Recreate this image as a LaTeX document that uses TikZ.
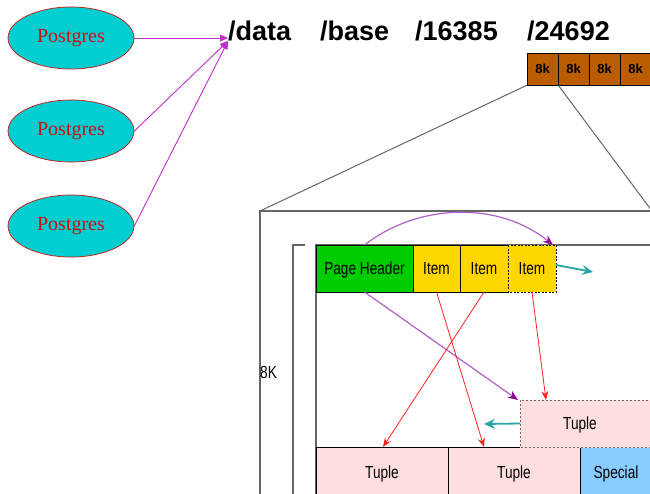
\documentclass[tikz,border=0pt]{standalone}
\usepackage{fontspec}
\setmainfont{Liberation Serif}
\setsansfont{Liberation Sans}
\newfontfamily\narrowsans[FakeStretch=0.78]{Liberation Sans}
\newfontfamily\boldsans{Liberation Sans Bold}
\usetikzlibrary{arrows.meta,shapes.geometric,calc}
\definecolor{pgcyan}{HTML}{00CED1}
\definecolor{pgred}{HTML}{CC1010}
\definecolor{magarrow}{HTML}{C030C8}
\definecolor{blkbrown}{HTML}{BA5C00}
\definecolor{framegray}{HTML}{666666}
\definecolor{hdrgreen}{HTML}{00CC00}
\definecolor{itemyellow}{HTML}{FFD700}
\definecolor{tuplepink}{HTML}{FFDEDF}
\definecolor{specblue}{HTML}{88CCFF}
\definecolor{arcpurple}{HTML}{B060C8}
\definecolor{darkpurple}{HTML}{8A0A9A}
\definecolor{ptrred}{HTML}{FF2020}
\definecolor{tealc}{HTML}{2AA4A4}
\begin{document}
\begin{tikzpicture}[x=1pt,y=-1pt,
  pg/.style={ellipse,draw=pgred,fill=pgcyan,line width=0.7pt,minimum width=126,minimum height=62,inner sep=0,text=pgred,font=\rmfamily\fontsize{20}{22}\selectfont},
  pathlbl/.style={anchor=base west,inner sep=0,font=\boldsans\fontsize{27}{30}\selectfont},
  magarr/.style={draw=magarrow,line width=0.9pt,-{Triangle[length=8,width=7]}},
  blk/.style={draw=black,fill=blkbrown,line width=0.7pt,minimum width=31,minimum height=32,inner sep=0,text depth=0pt,font=\boldsans\fontsize{13}{15}\selectfont},
  frame/.style={draw=framegray,line width=1.3pt},
  cell/.style={draw=black,line width=0.8pt,inner sep=0,outer sep=0,text depth=0pt,font=\narrowsans\fontsize{17.5}{19}\selectfont},
  plain/.style={inner sep=0,font=\narrowsans\fontsize{17.5}{19}\selectfont},
  redptr/.style={draw=ptrred,line width=0.8pt,-{Stealth[length=9,width=7,inset=3]}},
  tealptr/.style={draw=tealc,line width=1.8pt,-{Stealth[length=11,width=10,inset=4]}},
]
\useasboundingbox (0,0) rectangle (650,493);
\clip (0,0) rectangle (650,493);

% Postgres processes
\node[pg] (p1) at (71,38) {Postgres};
\node[pg] (p2) at (71,131) {Postgres};
\node[pg] (p3) at (71,226) {Postgres};

% path
\node[pathlbl] (d1) at (228,40) {/data};
\node[pathlbl] (d2) at (320,40) {/base};
\node[pathlbl] (d3) at (415,40) {/16385};
\node[pathlbl] (d4) at (527,40) {/24692};
\coordinate (hubA) at (228,38);
\coordinate (hubB) at (228,41);
\draw[magarr] (p1.east) -- (hubA);
\draw[magarr] (p2.east) -- (hubB);
\draw[magarr] (p3.east) -- (hubB);

% 8k blocks
\node[blk] (k1) at (542.5,69) {8k};
\node[blk] (k2) at (573.5,69) {8k};
\node[blk] (k3) at (604.5,69) {8k};
\node[blk] (k4) at (635.5,69) {8k};

% outer page frame
\coordinate (otl) at (260,211);
\coordinate (otr) at (652,211);
\draw[frame] (260,500) -- (otl) -- (700,211);
\draw[framegray,line width=1pt] (k1.south west) -- (otl);
\draw[framegray,line width=1pt] (k1.south east) -- (otr);

% bracket and page
\draw[frame] (305,245) -- (293,245) -- (293,500);
\draw[frame] (700,245) -- (316,245) -- (316,500);
\node[plain,anchor=west] (eightk) at (260,372) {8K};

% header and items
\node[cell,fill=hdrgreen,minimum width=97,minimum height=47] (ph) at (364.5,268.5) {Page Header};
\node[cell,fill=itemyellow,minimum width=47,minimum height=47] (i1) at (436.5,268.5) {Item};
\node[cell,fill=itemyellow,minimum width=48,minimum height=47] (i2) at (484,268.5) {Item};
\node[cell,fill=itemyellow,draw=none,minimum width=48,minimum height=47] (i3) at (532,268.5) {Item};
\draw[black,line width=0.8pt,dash pattern=on 2pt off 1.5pt] (i3.north west) rectangle (i3.south east);

% tuples
\node[cell,fill=tuplepink,minimum width=132,minimum height=50] (t1) at (382,472) {Tuple};
\node[cell,fill=tuplepink,minimum width=132,minimum height=50] (t2) at (514,472) {Tuple};
\node[cell,fill=specblue,minimum width=72,minimum height=50] (sp) at (616,472) {Special};
\fill[tuplepink] (520,400) rectangle (660,447.6);
\node[cell,draw=none,minimum width=120,minimum height=47] (dt) at (580,423.5) {Tuple};
\draw[framegray,line width=1pt,dash pattern=on 2pt off 2pt] (dt.north west -| otr) -- (dt.north west) -- (dt.south west) -- (dt.south west -| otr);

% pointers
\draw[arcpurple,line width=1.2pt,-{Stealth[length=10,width=8,inset=3,color=darkpurple]}]
  (ph.north) .. controls (420,202) and (500,202) .. ([xshift=-3]i3.north east);
\draw[arcpurple,line width=1.2pt,-{Stealth[length=10,width=8,inset=3,color=darkpurple]}]
  (ph.south) -- ([xshift=-2]dt.north west);
\draw[redptr] (i1.south) -- ($(t2.north west)+(36,0)$);
\draw[redptr] (i2.south) -- ($(t1.north)+(1,0)$);
\draw[redptr] (i3.south) -- ($(dt.north west)+(26,0)$);
\coordinate (tealA) at (593,272);
\draw[tealptr] ([yshift=3.5]i3.east) -- (tealA);
\coordinate (tealB) at (484,424);
\draw[tealptr] (dt.west) -- (tealB);
\end{tikzpicture}
\end{document}
